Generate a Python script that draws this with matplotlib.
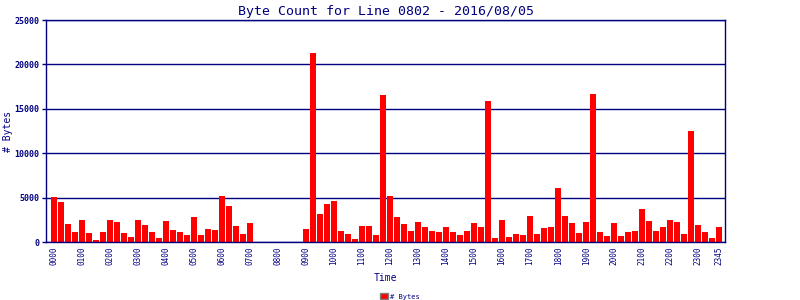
import matplotlib
matplotlib.use("Agg")
import matplotlib.pyplot as plt
from matplotlib.patches import Patch
import numpy as np

# byte counts per 15 minute slot, 0000 .. 2345
byte_counts = [
    5050, 4480, 2015, 1120, 2460, 1010, 220, 1120,
    2460, 2240, 1010, 560, 2460, 1900, 1120, 450,
    2350, 1340, 1120, 780, 2800, 780, 1460, 1340,
    5150, 4030, 1790, 900, 2130, 0, 0, 0,
    0, 0, 0, 0, 1460, 21280, 3150, 4250,
    4590, 1230, 900, 340, 1790, 1790, 780, 16550,
    5150, 2800, 2015, 1230, 2240, 1680, 1230, 1120,
    1680, 1120, 780, 1230, 2130, 1680, 15880, 450,
    2460, 560, 900, 780, 2910, 900, 1570, 1680,
    6040, 2910, 2130, 1010, 2240, 16660, 1120, 670,
    2130, 670, 1120, 1230, 3690, 2350, 1230, 1680,
    2460, 2240, 900, 12500, 1900, 1120, 450, 1680,
]
slot_labels = ["%02d%02d" % (h, m) for h in range(24) for m in (0, 15, 30, 45)]
tick_idx = list(range(0, 96, 4)) + [95]

NAVY = "#000080"
RED = "#ff0000"
plt.rcParams['font.family'] = ['DejaVu Sans Mono']

fig = plt.figure(figsize=(8, 3), dpi=100)
ax = fig.add_axes([0.0575, 0.193, 0.849, 0.74])

x = np.arange(len(byte_counts))
ax.bar(x, byte_counts, width=0.86, color=RED, zorder=3)

ax.set_xlim(-1.14, 95.86)
ax.set_ylim(0, 25000)
ax.set_yticks(range(0, 25001, 5000))
ax.set_yticklabels([str(v) for v in range(0, 25001, 5000)],
                   fontsize=6, fontweight='bold', color=NAVY)
ax.set_xticks(tick_idx)
ax.set_xticklabels([slot_labels[i] for i in tick_idx], rotation=90,
                   fontsize=5.5, color=NAVY)
ax.tick_params(axis='x', length=0, pad=3)
ax.tick_params(axis='y', length=3, width=1, color=NAVY, pad=2)
ax.grid(axis='y', color=NAVY, linewidth=1, zorder=1)
for s in ax.spines.values():
    s.set_color(NAVY)
    s.set_linewidth(1.0)
    s.set_zorder(4)

ax.set_title("Byte Count for Line 0802 - 2016/08/05", fontsize=9.5,
             color=NAVY, pad=4)
ax.set_xlabel("Time", fontsize=7, color=NAVY, labelpad=6)
ax.set_ylabel("# Bytes", fontsize=7, color=NAVY)
ax.yaxis.set_label_coords(-0.048, 0.5)

fig.legend(handles=[Patch(facecolor=RED, edgecolor='gray', label='# Bytes')],
           loc='lower center', bbox_to_anchor=(0.5, -0.02), frameon=False,
           fontsize=5, labelcolor=NAVY, handlelength=1.2, handleheight=0.9,
           handletextpad=0.3)

fig.savefig("out.png", dpi=100)
